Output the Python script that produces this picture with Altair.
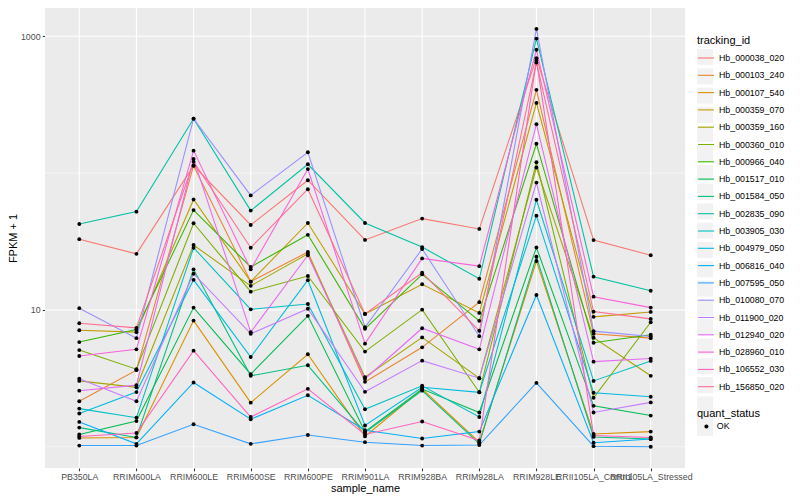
import altair as alt
import pandas as pd

samples = ["PB350LA", "RRIM600LA", "RRIM600LE", "RRIM600SE", "RRIM600PE", "RRIM901LA",
           "RRIM928BA", "RRIM928LA", "RRIM928LE", "RRII105LA_Control", "RRII105LA_Stressed"]

ids = ["Hb_000038_020", "Hb_000103_240", "Hb_000107_540", "Hb_000359_070", "Hb_000359_160",
       "Hb_000360_010", "Hb_000966_040", "Hb_001517_010", "Hb_001584_050", "Hb_002835_090",
       "Hb_003905_030", "Hb_004979_050", "Hb_006816_040", "Hb_007595_050", "Hb_010080_070",
       "Hb_011900_020", "Hb_012940_020", "Hb_028960_010", "Hb_106552_030", "Hb_156850_020"]

colors = ["#F8766D", "#EA8331", "#D89000", "#C09B00", "#A3A500", "#7CAE00", "#39B600", "#00BB4E",
          "#00BF7D", "#00C1A3", "#00BFC4", "#00BAE0", "#00B0F6", "#35A2FF", "#9590FF", "#C77CFF",
          "#E76BF3", "#FA62DB", "#FF62BC", "#FF6C91"]

hb_000038_020 = [32.9, 25.7, 113.4, 41.8, 88.7, 32.5, 46.5, 39.1, 692, 32.4, 25.1]
hb_000103_240 = [2.15, 3.63, 113.4, 16.1, 26.5, 2.98, 5.33, 11.4, 406, 6.70, 6.22]
hb_000107_540 = [1.16, 1.17, 8.36, 2.10, 4.74, 1.19, 2.64, 1.08, 22.8, 1.24, 1.29]
hb_000359_070 = [7.11, 6.88, 64.2, 16.1, 43.2, 9.35, 15.4, 9.51, 326, 8.90, 9.67]
hb_000359_160 = [3.03, 2.72, 29.8, 15.0, 25.7, 3.23, 6.30, 3.17, 110, 6.26, 3.30]
hb_000360_010 = [5.09, 3.69, 43.0, 13.6, 17.7, 4.96, 10.05, 2.50, 120, 2.28, 8.13]
hb_000966_040 = [5.82, 7.20, 53.7, 20.6, 35.4, 7.28, 18.2, 8.32, 164, 5.76, 6.59]
hb_001517_010 = [1.23, 1.54, 10.4, 3.39, 9.05, 1.29, 2.64, 1.78, 28.6, 1.99, 1.69]
hb_001584_050 = [1.38, 1.17, 19.8, 3.30, 3.94, 1.27, 2.57, 1.05, 24.5, 1.18, 1.14]
hb_002835_090 = [42.5, 52.3, 250, 53.2, 116, 43.2, 28.8, 16.9, 962, 17.5, 13.8]
hb_003905_030 = [1.90, 1.63, 28.5, 10.1, 11.05, 1.88, 2.79, 1.65, 63.9, 3.03, 4.24]
hb_004979_050 = [1.75, 2.51, 16.6, 4.53, 16.5, 1.43, 2.72, 2.50, 48.9, 2.48, 2.32]
hb_006816_040 = [1.52, 1.05, 2.95, 1.59, 2.38, 1.32, 1.15, 1.29, 12.85, 1.07, 1.14]
hb_007595_050 = [1.02, 1.02, 1.46, 1.05, 1.22, 1.08, 1.02, 1.03, 2.93, 1.01, 1.0]
hb_010080_070 = [10.3, 6.22, 250, 68.7, 142, 7.47, 27.9, 6.43, 1132, 7.0, 6.40]
hb_011900_020 = [3.14, 2.15, 18.4, 6.70, 10.2, 2.52, 4.26, 3.17, 85.3, 1.78, 2.11]
hb_012940_020 = [2.57, 2.82, 127, 6.88, 25.1, 3.14, 7.35, 5.15, 228, 4.19, 4.41]
hb_028960_010 = [4.61, 5.15, 146, 19.8, 107, 5.67, 23.8, 20.9, 797, 12.5, 10.4]
hb_106552_030 = [1.19, 1.26, 5.04, 1.65, 2.65, 1.23, 1.53, 1.11, 666, 1.21, 1.17]
hb_156850_020 = [8.0, 7.40, 121, 28.5, 76.3, 9.35, 18.7, 7.04, 644, 9.72, 8.60]

series = [hb_000038_020, hb_000103_240, hb_000107_540, hb_000359_070, hb_000359_160,
          hb_000360_010, hb_000966_040, hb_001517_010, hb_001584_050, hb_002835_090,
          hb_003905_030, hb_004979_050, hb_006816_040, hb_007595_050, hb_010080_070,
          hb_011900_020, hb_012940_020, hb_028960_010, hb_106552_030, hb_156850_020]

y_major = [10, 1000]
y_minor = [1, 100]
y_domain = [0.6994, 1610.1]

# key ids differ from the ids (trailing space) so that the key-background legend is not merged
key_ids = [t + " " for t in ids]

rows = []
for tid, kid, vals in zip(ids, key_ids, series):
    for j, (s, v) in enumerate(zip(samples, vals)):
        rows.append({"tracking_id": tid, "key_id": kid, "sample_name": s, "si": j,
                     "fpkm": v, "quant_status": "OK", "qkey": "OK "})
df = pd.DataFrame(rows)
minor_df = pd.DataFrame({"fpkm": y_minor})
major_df = pd.DataFrame({"fpkm": y_major})
panel_df = pd.DataFrame({"fpkm": [y_domain[0]], "fpkm_top": [y_domain[1]]})
vgrid_df = pd.DataFrame({"sample_name": samples})

FONT = "Liberation Sans"
TITLE = "FPKM + 1"

yscale = alt.Scale(type="log", domain=y_domain, nice=False, zero=False)
xscale = alt.Scale(type="point", domain=samples, padding=0.6)

yaxis = alt.Axis(values=y_major, format="d", grid=False,
                 tickColor="#333333", tickSize=2.75, tickWidth=1.07, domain=False,
                 labelColor="#4D4D4D", labelFontSize=8.8, labelFont=FONT, labelPadding=2.2,
                 title=TITLE, titleFont=FONT, titleFontSize=11, titleFontWeight="normal",
                 titleColor="black", titlePadding=2)
xaxis = alt.Axis(grid=False, labelAngle=0,
                 tickColor="#333333", tickSize=2.75, tickWidth=1.07, domain=False,
                 labelColor="#4D4D4D", labelFontSize=8.8, labelFont=FONT, labelPadding=2.2,
                 labelOverlap=False, labelBound=False, labelFlush=False,
                 title="sample_name", titleFont=FONT, titleFontSize=11, titleFontWeight="normal",
                 titleColor="black", titlePadding=1)

Y = alt.Y("fpkm:Q", scale=yscale, axis=yaxis, title=TITLE)
X = alt.X("sample_name:N", scale=xscale, axis=xaxis, sort=samples, title="sample_name")

LX = 652
LY1 = 27
LY2 = 398
ROWPAD = 3.3

common = dict(orient="none", legendX=LX, padding=0, titleFont=FONT, titleFontSize=11,
              titleFontWeight="normal", titlePadding=3, labelFont=FONT, labelFontSize=8.8)

panel = alt.Chart(panel_df).mark_rect(color="#EBEBEB").encode(
    y=Y, y2=alt.Y2("fpkm_top:Q", title=TITLE))
vgrid = alt.Chart(vgrid_df).mark_rule(color="white", strokeWidth=1.07).encode(x=X)
minor = alt.Chart(minor_df).mark_rule(color="white", strokeWidth=0.55).encode(y=Y)
major = alt.Chart(major_df).mark_rule(color="white", strokeWidth=1.07).encode(y=Y)

base = alt.Chart(df)

lines = base.mark_line(strokeWidth=1.07).encode(
    x=X, y=Y,
    order=alt.Order("si:Q"),
    color=alt.Color("tracking_id:N", scale=alt.Scale(domain=ids, range=colors),
                    legend=alt.Legend(legendY=LY1, title="tracking_id", titleColor="black",
                                      symbolType="stroke", symbolSize=256, symbolStrokeWidth=1.1,
                                      rowPadding=ROWPAD, labelColor="black", labelOffset=4,
                                      zindex=2, **common)),
)

# grey key backgrounds behind the legend symbols (as in ggplot2), no visible text
keys = base.transform_filter("datum.fpkm < 0").mark_square(color="#F2F2F2", opacity=1).encode(
    fill=alt.Fill("key_id:N", scale=alt.Scale(domain=key_ids, range=["#F2F2F2"]),
                  legend=alt.Legend(legendY=LY1, title=" ", titleColor="transparent",
                                    symbolType="square", symbolSize=256, symbolStrokeWidth=0,
                                    symbolFillColor="#F2F2F2", rowPadding=ROWPAD,
                                    labelExpr="''", labelColor="transparent", labelOffset=4,
                                    zindex=0, **common)),
    opacity=alt.Opacity("qkey:O", scale=alt.Scale(domain=["OK "], range=[1]),
                        legend=alt.Legend(legendY=LY2, title=" ", titleColor="transparent",
                                          symbolType="square", symbolSize=256, symbolStrokeWidth=0,
                                          symbolFillColor="#F2F2F2", labelOffset=4,
                                          labelExpr="''", labelColor="transparent",
                                          zindex=0, **common)),
)

points = base.mark_point(filled=True, size=15, color="black", opacity=1).encode(
    x=X, y=Y,
    shape=alt.Shape("quant_status:N", scale=alt.Scale(domain=["OK"], range=["circle"]),
                    legend=alt.Legend(legendY=LY2 + 2, title="quant_status", titleColor="black",
                                      symbolSize=16, symbolType="circle", symbolOffset=5,
                                      labelColor="black", labelOffset=6, zindex=2, **common)),
)

chart = alt.layer(panel, vgrid, minor, major, lines, keys, points).properties(
    width=640, height=460,
    autosize=alt.AutoSizeParams(type="none"),
    padding={"left": 37, "top": 0, "right": 107, "bottom": 30},
).configure(background="white").configure_view(stroke=None)

chart.save("out.html", embed_options={"renderer": "svg", "actions": False})
